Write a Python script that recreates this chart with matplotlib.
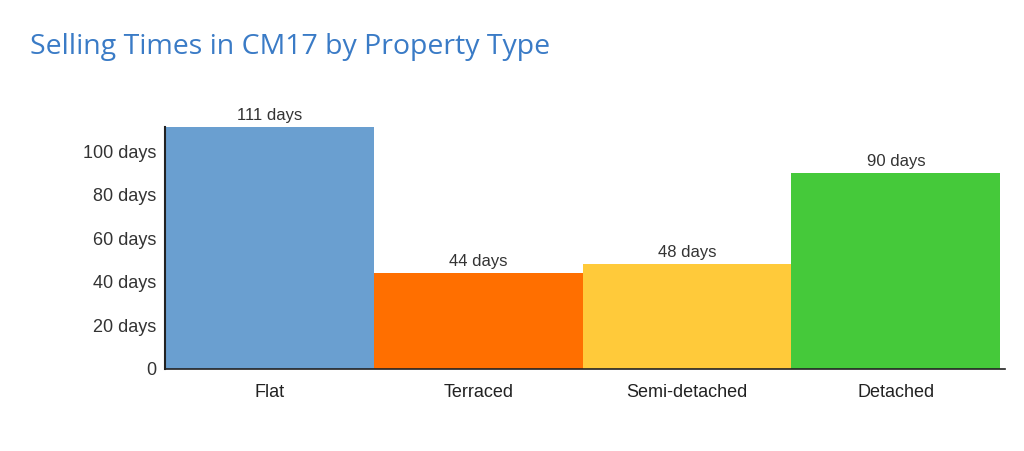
import matplotlib.pyplot as plt

# Selling times by property type
categories = ['Flat', 'Terraced', 'Semi-detached', 'Detached']
days = [111, 44, 48, 90]
colors = ['#6A9FD0', '#FF6F00', '#FFCA3A', '#45C93A']
yticks = [0, 20, 40, 60, 80, 100]
ytick_labels = ['0', '20 days', '40 days', '60 days', '80 days', '100 days']

plt.rcParams['font.family'] = ['Liberation Sans', 'DejaVu Sans']

fig = plt.figure(figsize=(10.24, 4.51), dpi=100)
ax = fig.add_axes([0.161, 0.182, 0.82, 0.536])

x = range(len(categories))
ax.bar(x, days, width=1.0, color=colors, linewidth=0)

for i, v in enumerate(days):
    ax.annotate(f'{v} days', (i, v), xytext=(0, 3), textcoords='offset points',
                ha='center', va='bottom', fontsize=12, color='#333333')

ax.set_xlim(-0.5, 3.52)
ax.set_ylim(0, 111)
ax.set_xticks(list(x))
ax.set_xticklabels(categories, fontsize=13, color='#222222')
ax.set_yticks(yticks)
ax.set_yticklabels(ytick_labels, fontsize=13, color='#333333')
ax.tick_params(length=0)
ax.tick_params(axis='x', pad=11)
ax.tick_params(axis='y', pad=6)

for side in ['top', 'right']:
    ax.spines[side].set_visible(False)
ax.spines['left'].set_color('#222222')
ax.spines['left'].set_linewidth(1.5)
ax.spines['bottom'].set_color('#222222')
ax.spines['bottom'].set_linewidth(1.2)

fig.text(0.029, 0.895, 'Selling Times in CM17 by Property Type', fontsize=20.5,
         color='#3A7BC6', family=['Open Sans', 'DejaVu Sans'], va='center', ha='left')

plt.savefig('out.png', dpi=100)
